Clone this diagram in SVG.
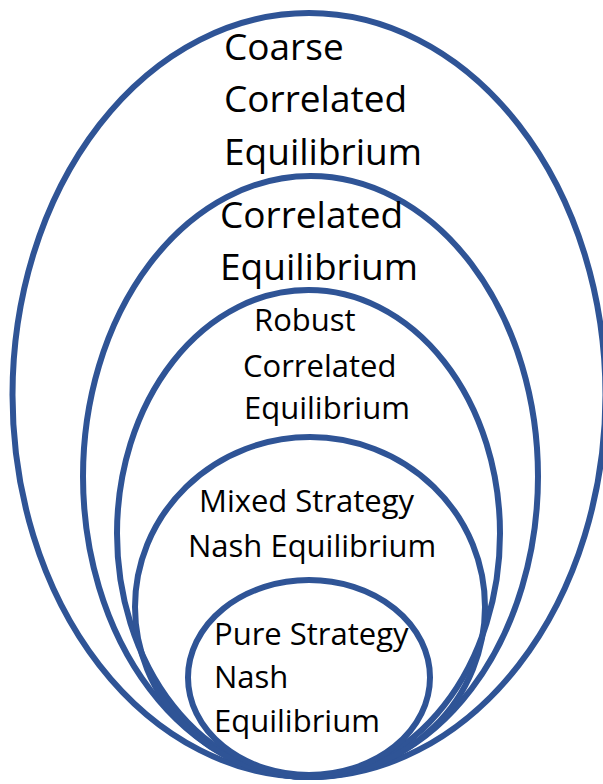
<svg xmlns="http://www.w3.org/2000/svg" width="603" height="784" viewBox="0 0 603 784">
  <style>
    .ring { fill: none; stroke: #2F5496; stroke-width: 6; }
    .lbl { font-family: "Open Sans", "Noto Sans", sans-serif; fill: #000000; }
    .big { font-size: 37px; }
    .small { font-size: 31px; }
  </style>
  <rect x="0" y="0" width="603" height="784" fill="#ffffff"/>
  <g id="coarse-correlated">
    <ellipse class="ring" cx="309" cy="395" rx="296.5" ry="382"/>
    <text class="lbl big" x="224" y="60">Coarse</text>
    <text class="lbl big" x="224" y="112">Correlated</text>
    <text class="lbl big" x="224" y="165">Equilibrium</text>
  </g>
  <g id="correlated">
    <ellipse class="ring" cx="310.5" cy="476.5" rx="227.5" ry="300.5"/>
    <text class="lbl big" x="220" y="228">Correlated</text>
    <text class="lbl big" x="220" y="280">Equilibrium</text>
  </g>
  <g id="robust-correlated">
    <ellipse class="ring" cx="308.5" cy="533.5" rx="191.5" ry="243.5"/>
    <text class="lbl small" x="254" y="331">Robust</text>
    <text class="lbl small" x="243" y="377">Correlated</text>
    <text class="lbl small" x="244" y="419">Equilibrium</text>
  </g>
  <g id="mixed-nash">
    <ellipse class="ring" cx="310" cy="607" rx="175" ry="170"/>
    <text class="lbl small" x="199" y="512">Mixed Strategy</text>
    <text class="lbl small" x="188" y="557">Nash Equilibrium</text>
  </g>
  <g id="pure-nash">
    <ellipse class="ring" cx="309" cy="677.5" rx="121" ry="97.5"/>
    <text class="lbl small" x="214" y="645">Pure Strategy</text>
    <text class="lbl small" x="214" y="688">Nash</text>
    <text class="lbl small" x="214" y="732">Equilibrium</text>
  </g>
</svg>
